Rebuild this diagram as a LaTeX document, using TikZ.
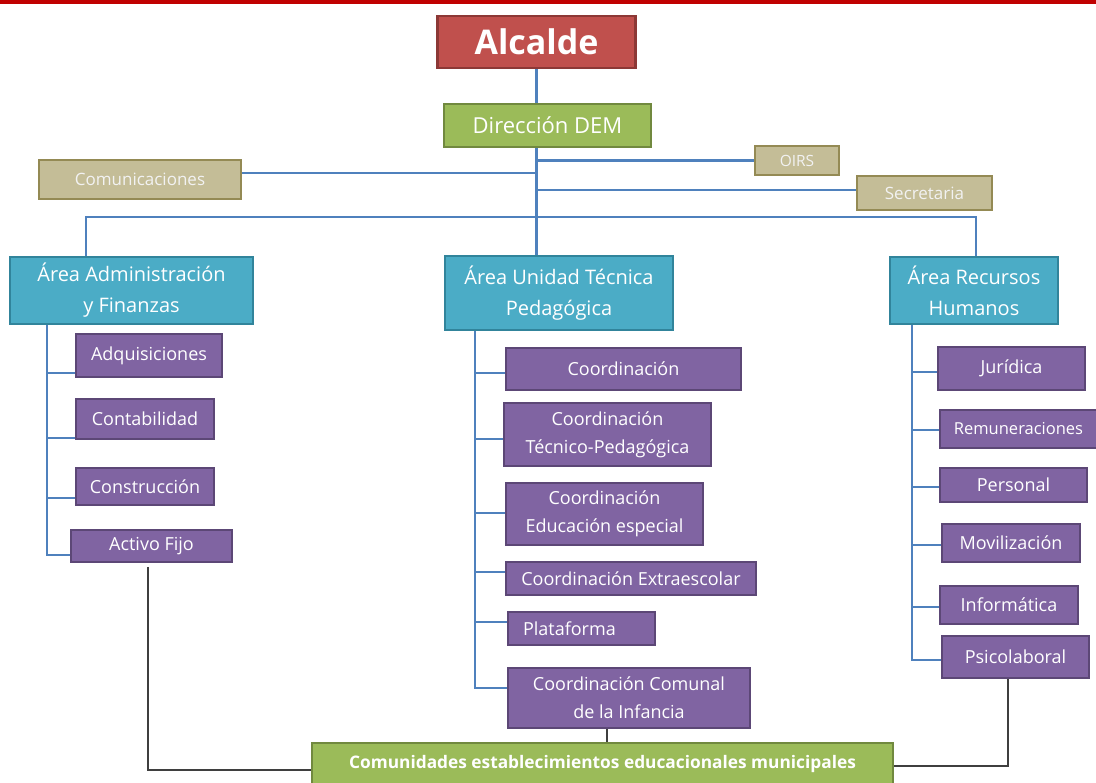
\documentclass[tikz,border=0pt]{standalone}
\usepackage{fontspec}
\setmainfont{Open Sans}
\usetikzlibrary{calc,shadows}

\definecolor{barred}{HTML}{C00000}
\definecolor{redfill}{HTML}{C0504D}
\definecolor{redline}{HTML}{8C3836}
\definecolor{greenfill}{HTML}{9BBB59}
\definecolor{greenline}{HTML}{71893F}
\definecolor{tanfill}{HTML}{C4BD97}
\definecolor{tanline}{HTML}{948A54}
\definecolor{tealfill}{HTML}{4BACC6}
\definecolor{tealline}{HTML}{31849B}
\definecolor{purplefill}{HTML}{8064A2}
\definecolor{purpleline}{HTML}{5C4776}
\definecolor{linkblue}{HTML}{4F81BD}
\definecolor{linkdark}{HTML}{3F3F3F}

\tikzset{
  orgbox/.style={draw, line width=2.4pt, inner sep=0pt, align=center,
    text=white, drop shadow={shadow xshift=1pt, shadow yshift=-1pt, opacity=0.25}},
  mayorbox/.style={orgbox, fill=redfill, draw=redline, font=\bfseries\fontsize{34}{38}\selectfont},
  headbox/.style={orgbox, fill=greenfill, draw=greenline, font=\fontsize{22}{26}\selectfont},
  staffbox/.style={orgbox, fill=tanfill, draw=tanline, text=white!95!black, font=\fontsize{17}{20}\selectfont},
  areabox/.style={orgbox, fill=tealfill, draw=tealline, font=\fontsize{20}{31}\selectfont},
  unitbox/.style={orgbox, fill=purplefill, draw=purpleline, font=\fontsize{18}{28}\selectfont},
  basebox/.style={orgbox, fill=greenfill, draw=greenline, font=\bfseries\fontsize{17.3}{20}\selectfont},
  bluelink/.style={draw=linkblue, line width=2.4pt},
  darklink/.style={draw=linkdark, line width=2.6pt},
  sz/.style 2 args={minimum width=#1, minimum height=#2}
}

\begin{document}
\begin{tikzpicture}[x=1pt,y=-1pt]
\useasboundingbox (0,0) rectangle (1096,783);
\fill[barred] (0,0) rectangle (1096,4);

% top levels
\node[mayorbox, sz={198}{52}] (alc) at (536.5,42) {Alcalde};
\node[headbox, sz={207}{43}] (dir) at (547.5,125.5) {Dirección DEM};
\node[staffbox, sz={202}{39}] (com) at (140,179.5) {Comunicaciones};
\node[staffbox, font=\fontsize{15.5}{18}\selectfont, sz={84}{29}] (oirs) at (797,160.5) {OIRS};
\node[staffbox, sz={135}{34}] (sec) at (924.5,193) {Secretaria};

% areas
\node[areabox, sz={243}{67}] (adm) at (131.5,290.5) {Área Administración\\y Finanzas};
\node[areabox, sz={228}{74}] (utp) at (559,293) {Área Unidad Técnica\\Pedagógica};
\node[areabox, sz={168}{67}] (rrhh) at (974,290.5) {Área Recursos\\Humanos};

% administration units
\node[unitbox, sz={146}{43}] (adq) at (149,355.5) {Adquisiciones};
\node[unitbox, sz={138}{40}] (cont) at (145,419) {Contabilidad};
\node[unitbox, sz={138}{37}] (cons) at (145,486.5) {Construcción};
\node[unitbox, sz={161}{32}] (act) at (151.5,546) {Activo Fijo};

% pedagogical units
\node[unitbox, sz={235}{42}] (coo) at (623.5,369) {Coordinación};
\node[unitbox, sz={207}{63}] (ctp) at (607.5,434.5) {Coordinación\\Técnico-Pedagógica};
\node[unitbox, sz={197}{62}] (cee) at (604.5,514) {Coordinación\\Educación especial};
\node[unitbox, sz={250}{33}] (cex) at (631,578.5) {Coordinación Extraescolar};
\node[unitbox, inner xsep=15pt, text width=117pt, align=left, sz={147}{33}] (pla) at (581.5,628.5) {Plataforma};
\node[unitbox, sz={242}{60}] (cci) at (629,698) {Coordinación Comunal\\de la Infancia};

% human resources units
\node[unitbox, sz={147}{43}] (jur) at (1011.5,368.5) {Jurídica};
\node[unitbox, font=\fontsize{16.5}{20}\selectfont, sz={157}{38}] (rem) at (1018.5,429) {Remuneraciones};
\node[unitbox, sz={147}{34}] (per) at (1013.5,485) {Personal};
\node[unitbox, sz={138}{38}] (mov) at (1011,543) {Movilización};
\node[unitbox, sz={138}{38}] (inf) at (1009,605) {Informática};
\node[unitbox, sz={147}{42}] (psi) at (1015.5,657) {Psicolaboral};

% educational communities
\node[basebox, sz={581}{42}] (base) at (602.5,764) {Comunidades establecimientos educacionales municipales};

% trunk and upper branches
\coordinate (trunk) at (536.5,0);
\coordinate (busL) at (86,217);
\coordinate (busR) at (976,217);
\draw[bluelink] (alc.south) -- (alc.south |- dir.north);
\draw[bluelink] (trunk |- dir.south) -- (trunk |- utp.north);
\draw[bluelink] (oirs.west) -- (oirs.west -| trunk);
\draw[bluelink] (com.east |- 0,173) -- (trunk |- 0,173);
\draw[bluelink] (sec.west |- 0,190) -- (trunk |- 0,190);
\draw[bluelink] (busL |- adm.north) -- (busL) -- (busR) -- (busR |- rrhh.north);

% administration spine
\coordinate (sa) at (47,555);
\draw[bluelink] (sa |- adm.south) -- (sa) -- (sa -| act.west);
\foreach \n/\y in {adq/373, cont/438, cons/498}
  \draw[bluelink] (47,\y) -- (\n.west |- 0,\y);

% pedagogical spine
\coordinate (sp) at (475,688);
\draw[bluelink] (sp |- utp.south) -- (sp) -- (sp -| cci.west);
\foreach \n/\y in {coo/373, ctp/439, cee/513, cex/572, pla/622}
  \draw[bluelink] (475,\y) -- (\n.west |- 0,\y);

% human resources spine
\coordinate (sr) at (912,660);
\draw[bluelink] (sr |- rrhh.south) -- (sr) -- (sr -| psi.west);
\foreach \n/\y in {jur/372, rem/430, per/487, mov/545, inf/607}
  \draw[bluelink] (912,\y) -- (\n.west |- 0,\y);

% links to the educational communities
\coordinate (dl) at (148,770);
\coordinate (dr) at (1008,766);
\draw[darklink] (dl |- 0,567) -- (dl) -- (dl -| base.west);
\draw[darklink] (dr |- psi.south) -- (dr) -- (dr -| base.east);
\draw[darklink] (607,0 |- cci.south) -- (607,0 |- base.north);
\end{tikzpicture}
\end{document}
